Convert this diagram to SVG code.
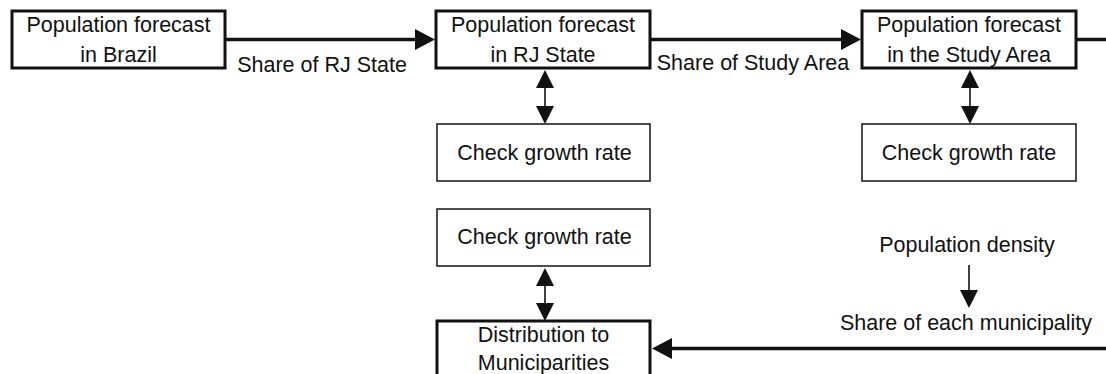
<svg xmlns="http://www.w3.org/2000/svg" width="1106" height="374" viewBox="0 0 1106 374">
<style>
text{font-family:"Liberation Sans",Arial,sans-serif;font-size:21.5px;fill:#111;text-anchor:middle}
.thick{fill:#fff;stroke:#111;stroke-width:3}
.thin{fill:#fff;stroke:#222;stroke-width:1.6}
.main{stroke:#111;stroke-width:3.5;fill:none}
.dbl{stroke:#111;stroke-width:1.6;fill:none}
</style>
<defs>
<marker id="big" viewBox="0 0 20 21" refX="0" refY="10.5" markerWidth="20" markerHeight="21" markerUnits="userSpaceOnUse" orient="auto-start-reverse"><polygon points="0,0 20,10.5 0,21" fill="#111"/></marker>
<marker id="small" viewBox="0 0 18 18" refX="0" refY="9" markerWidth="18" markerHeight="18" markerUnits="userSpaceOnUse" orient="auto-start-reverse"><polygon points="0,0 18,9 0,18" fill="#111"/></marker>
</defs>
<g id="connectors">
<line class="main" x1="225" y1="39.5" x2="415" y2="39.5" marker-end="url(#big)"/>
<line class="main" x1="650" y1="39.5" x2="841" y2="39.5" marker-end="url(#big)"/>
<line class="main" x1="1076" y1="39.5" x2="1110" y2="39.5"/>
<line class="main" x1="1110" y1="348.5" x2="672" y2="348.5" marker-end="url(#big)"/>
<line class="dbl" x1="545" y1="88" x2="545" y2="106" marker-start="url(#small)" marker-end="url(#small)"/>
<line class="dbl" x1="970" y1="88" x2="970" y2="106" marker-start="url(#small)" marker-end="url(#small)"/>
<line class="dbl" x1="545" y1="286" x2="545" y2="303" marker-start="url(#small)" marker-end="url(#small)"/>
<line class="dbl" x1="969" y1="265" x2="969" y2="290" marker-end="url(#small)"/>
<text x="322" y="72">Share of RJ State</text>
<text x="753" y="70">Share of Study Area</text>
<text x="967" y="252">Population density</text>
<text x="966" y="330">Share of each municipality</text>
</g>
<g id="n1"><rect class="thick" x="12" y="11" width="213" height="57"/><text x="118.5" y="32">Population forecast</text><text x="118.5" y="62">in Brazil</text></g>
<g id="n2"><rect class="thick" x="436" y="11" width="214" height="57"/><text x="543" y="32">Population forecast</text><text x="543" y="62">in RJ State</text></g>
<g id="n3"><rect class="thick" x="862" y="11" width="214" height="57"/><text x="969" y="32">Population forecast</text><text x="969" y="62">in the Study Area</text></g>
<g id="n4"><rect class="thin" x="437" y="124" width="213" height="57"/><text x="544.5" y="160">Check growth rate</text></g>
<g id="n5"><rect class="thin" x="862" y="124" width="214" height="57"/><text x="969" y="160">Check growth rate</text></g>
<g id="n6"><rect class="thin" x="437" y="209" width="213" height="57"/><text x="544.5" y="244">Check growth rate</text></g>
<g id="n7"><rect class="thick" x="437" y="321" width="213" height="70"/><text x="543.5" y="342">Distribution to</text><text x="543.5" y="370">Municiparities</text></g>
</svg>
